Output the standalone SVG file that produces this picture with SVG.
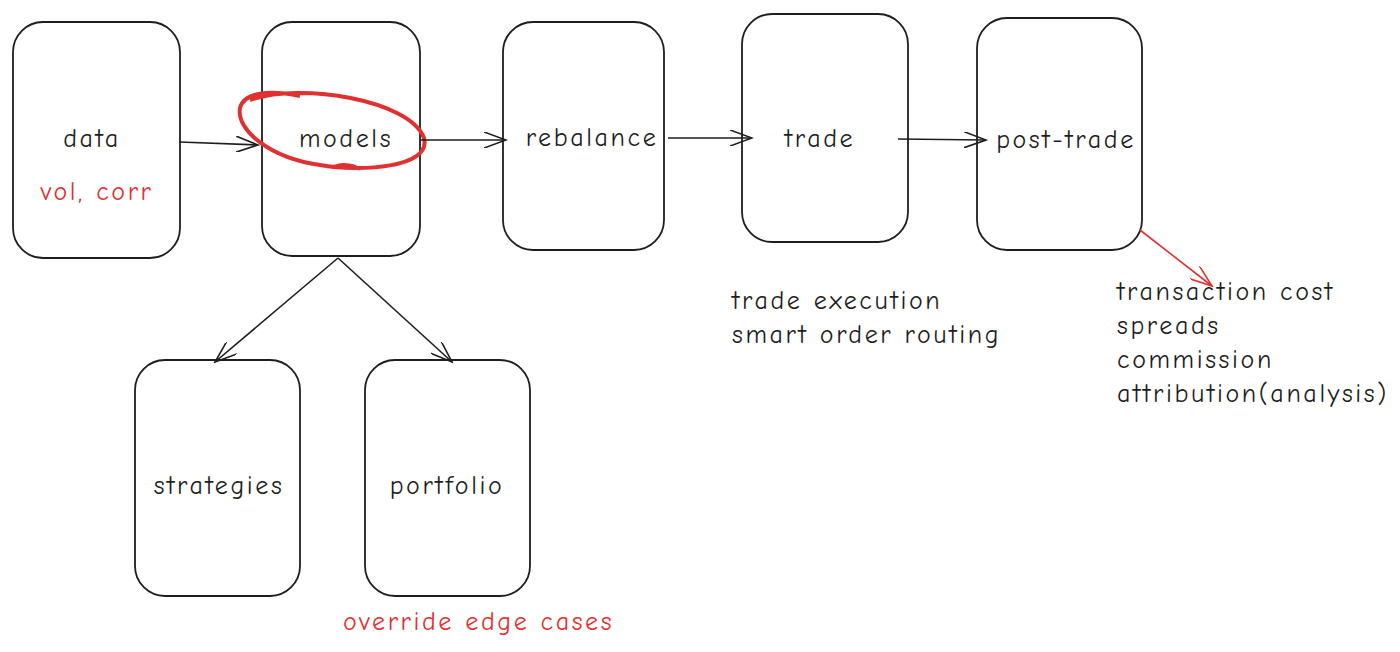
<svg xmlns="http://www.w3.org/2000/svg" width="1400" height="652" viewBox="0 0 1400 652">
<defs>
<style>
.box{fill:none;stroke:#1e1e1e;stroke-width:1.8}
.t{font-family:"Comic Neue","Open Sans",sans-serif;font-size:26px;letter-spacing:2.6px;fill:#1e1e1e}
.r{fill:#e03131}
.c{stroke:#1e1e1e;stroke-width:1.6;fill:none}
</style>
<marker id="a" markerWidth="24" markerHeight="16" refX="22" refY="8" orient="auto" markerUnits="userSpaceOnUse"><path d="M0,0 L22,8 L0,16" fill="none" stroke="#1e1e1e" stroke-width="1.6"/></marker>
<marker id="ar" markerWidth="24" markerHeight="16" refX="22" refY="8" orient="auto" markerUnits="userSpaceOnUse"><path d="M0,0 L22,8 L0,16" fill="none" stroke="#e03131" stroke-width="1.6"/></marker>
</defs>
<rect width="1400" height="652" fill="#fff"/>
<g id="data"><rect class="box" x="13" y="22" width="167" height="236" rx="30"/><text class="t" x="92" y="147" text-anchor="middle">data</text><text class="t r" x="97" y="200" text-anchor="middle">vol, corr</text></g>
<g id="models"><rect class="box" x="262" y="22" width="158" height="234" rx="30"/><text class="t" x="346" y="147" text-anchor="middle">models</text><path d="M250,100 C300,82 410,100 424,138 C432,168 360,172 320,165 C270,158 236,130 240,108 C244,92 270,90 300,96" fill="none" stroke="#e03131" stroke-width="4"/><path d="M332,168 C340,162 360,165 358,170" fill="none" stroke="#e03131" stroke-width="3"/></g>
<g id="rebalance"><rect class="box" x="503" y="22" width="161" height="228" rx="30"/><text class="t" x="592" y="146" text-anchor="middle">rebalance</text></g>
<g id="trade"><rect class="box" x="742" y="14" width="166" height="228" rx="30"/><text class="t" x="820" y="147" text-anchor="middle">trade</text></g>
<g id="post-trade"><rect class="box" x="977" y="18" width="165" height="232" rx="30"/><text class="t" x="1066" y="148" text-anchor="middle">post-trade</text></g>
<g id="strategies"><rect class="box" x="135" y="360" width="165" height="236" rx="30"/><text class="t" x="219" y="494" text-anchor="middle">strategies</text></g>
<g id="portfolio"><rect class="box" x="365" y="360" width="165" height="236" rx="30"/><text class="t" x="447" y="494" text-anchor="middle">portfolio</text></g>
<g id="notes">
<text class="t" x="732" y="309">trade execution</text>
<text class="t" x="732" y="343">smart order routing</text>
<text class="t" x="1117" y="300">transaction cost</text>
<text class="t" x="1117" y="334">spreads</text>
<text class="t" x="1117" y="368">commission</text>
<text class="t" x="1117" y="402">attribution(analysis)</text>
<text class="t r" x="343" y="630">override edge cases</text>
</g>
<g id="connectors">
<line class="c" x1="180" y1="142" x2="258" y2="145" marker-end="url(#a)"/>
<line class="c" x1="420" y1="140" x2="506" y2="140" marker-end="url(#a)"/>
<line class="c" x1="668" y1="138" x2="752" y2="138" marker-end="url(#a)"/>
<line class="c" x1="898" y1="139" x2="986" y2="140" marker-end="url(#a)"/>
<line class="c" x1="338" y1="258" x2="215" y2="362" marker-end="url(#a)"/>
<line class="c" x1="338" y1="258" x2="452" y2="362" marker-end="url(#a)"/>
<line class="c" x1="1140" y1="230" x2="1212" y2="286" style="stroke:#e03131" marker-end="url(#ar)"/>
</g>
</svg>
